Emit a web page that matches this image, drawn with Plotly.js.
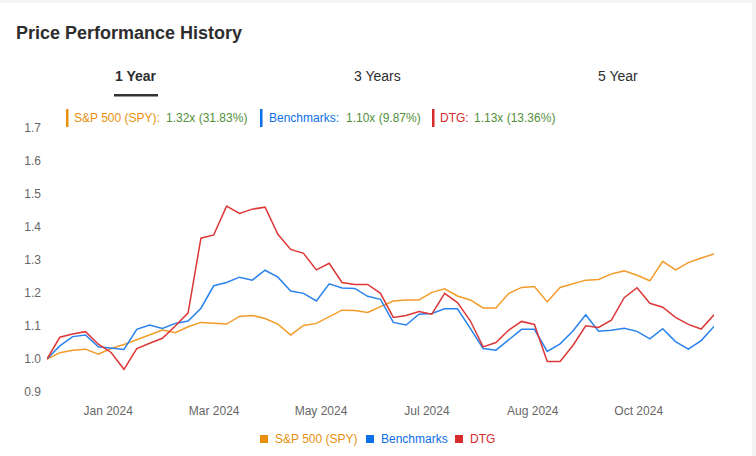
<!DOCTYPE html>
<html>
<head>
<meta charset="utf-8">
<script src="https://cdn.plot.ly/plotly-3.0.1.min.js"></script>
<style>
  html, body { margin: 0; padding: 0; background: #ffffff; }
  #wrap { position: relative; width: 756px; height: 456px; overflow: hidden; }
  #topstrip { position: absolute; left: 0; top: 0; width: 756px; height: 3px; background: #f4f4f4; }
  #rightstrip { position: absolute; right: 0; top: 0; width: 4px; height: 456px; background: #f4f4f4; }
  #chart { position: absolute; left: 0; top: 0; width: 756px; height: 456px; }
</style>
</head>
<body>
<div id="wrap">
  <div id="topstrip"></div>
  <div id="rightstrip"></div>
  <div id="chart"></div>
</div>
<script>
// ---- Data (weekly points, normalised to 1.0 at start) ----
const spyValues = [1.000, 1.019, 1.027, 1.030, 1.015, 1.032, 1.044, 1.058, 1.073, 1.088,
  1.080, 1.098, 1.111, 1.109, 1.106, 1.129, 1.132, 1.123, 1.106, 1.073,
  1.102, 1.108, 1.128, 1.148, 1.147, 1.141, 1.159, 1.176, 1.179, 1.179,
  1.202, 1.213, 1.191, 1.179, 1.155, 1.155, 1.199, 1.217, 1.220, 1.173,
  1.217, 1.229, 1.239, 1.241, 1.258, 1.267, 1.254, 1.237, 1.296, 1.270,
  1.292, 1.306, 1.318];
const benchValues = [1.000, 1.040, 1.068, 1.073, 1.037, 1.034, 1.029, 1.090, 1.103, 1.093,
  1.108, 1.115, 1.154, 1.222, 1.232, 1.248, 1.239, 1.269, 1.248, 1.206,
  1.199, 1.176, 1.228, 1.215, 1.214, 1.190, 1.181, 1.111, 1.103, 1.136,
  1.138, 1.152, 1.152, 1.093, 1.032, 1.027, 1.059, 1.090, 1.090, 1.023,
  1.046, 1.085, 1.134, 1.084, 1.087, 1.093, 1.084, 1.061, 1.092, 1.053,
  1.030, 1.056, 1.099];
const dtgValues = [1.000, 1.066, 1.076, 1.083, 1.045, 1.020, 0.969, 1.032, 1.048, 1.063,
  1.100, 1.140, 1.366, 1.376, 1.463, 1.441, 1.454, 1.460, 1.378, 1.332,
  1.320, 1.270, 1.290, 1.232, 1.226, 1.226, 1.199, 1.126, 1.132, 1.144,
  1.136, 1.199, 1.171, 1.116, 1.037, 1.050, 1.088, 1.114, 1.105, 0.993,
  0.993, 1.041, 1.101, 1.096, 1.118, 1.186, 1.216, 1.169, 1.157, 1.126,
  1.105, 1.091, 1.134];
const seriesNames = ["S&P 500 (SPY)", "Benchmarks", "DTG"];
const summaryValues = ["1.32x (31.83%)", "1.10x (9.87%)", "1.13x (13.36%)"];
const xTickLabels = ["Jan 2024", "Mar 2024", "May 2024", "Jul 2024", "Aug 2024", "Oct 2024"];
const tabLabels = ["1 Year", "3 Years", "5 Year"];
const chartTitle = "Price Performance History";

// ---- Styling / layout ----
const FONT = "Liberation Sans, Arial, Helvetica, sans-serif";
const lineColors = ["#f29b28", "#2a82ee", "#dd3737"];
const keyColors = ["#e8900c", "#0d6fe6", "#d62b2b"];
const valueColor = "#52903a";
const M = { l: 47, r: 42, t: 118, b: 54 };
const W = 756, H = 456;
const PW = W - M.l - M.r, PH = H - M.t - M.b;
const fx = px => (px - M.l) / PW;
const fy = py => (H - M.b - py) / PH;

const idx = spyValues.map((_, i) => i);
const allSeries = [spyValues, benchValues, dtgValues];
const traces = allSeries.map((vals, k) => ({
  x: idx, y: vals, type: "scatter", mode: "lines", name: seriesNames[k],
  line: { color: lineColors[k], width: 1.5 }, hoverinfo: "skip"
}));

const tickPos = [4.77, 13.03, 21.36, 29.62, 37.87, 46.13];

const annotations = [];
const shapes = [];
function txt(text, x, y, opts) {
  annotations.push(Object.assign({
    text: text, xref: "paper", yref: "paper", x: fx(x), y: fy(y),
    xanchor: "left", yanchor: "middle", showarrow: false,
    font: { family: FONT, size: 12, color: "#333" }
  }, opts || {}));
}
function rect(x0, y0, x1, y1, color) {
  shapes.push({ type: "rect", xref: "paper", yref: "paper",
    x0: fx(x0), x1: fx(x1), y0: fy(y1), y1: fy(y0),
    fillcolor: color, line: { width: 0 }, layer: "above" });
}

// Title
txt("<b>" + chartTitle + "</b>", 14, 33, { font: { family: FONT, size: 18, color: "#2d2d2d" } });
// Tabs
txt("<b>" + tabLabels[0] + "</b>", 135.5, 76, { xanchor: "center", font: { family: FONT, size: 14, color: "#2d2d2d" } });
txt(tabLabels[1], 377, 76, { xanchor: "center", font: { family: FONT, size: 14, color: "#2d2d2d" } });
txt(tabLabels[2], 618, 76, { xanchor: "center", font: { family: FONT, size: 14, color: "#2d2d2d" } });
rect(114, 94, 158, 96.5, "#333333");

// Header summary row
const hdrBarX = [66, 260, 432];
const hdrLabelX = [72, 267, 438];
const hdrValueX = [163.5, 343.5, 472];
const hdrLabels = [seriesNames[0] + ":", seriesNames[1] + ":", seriesNames[2] + ":"];
for (let k = 0; k < 3; k++) {
  rect(hdrBarX[k], 109, hdrBarX[k] + 2.5, 127, keyColors[k]);
  txt(hdrLabels[k], hdrLabelX[k], 118, { font: { family: FONT, size: 12, color: keyColors[k] } });
  txt(summaryValues[k], hdrValueX[k], 118, { font: { family: FONT, size: 12, color: valueColor } });
}

// Bottom legend
const legSqX = [260, 366, 455];
for (let k = 0; k < 3; k++) {
  rect(legSqX[k], 435, legSqX[k] + 8, 443, keyColors[k]);
  txt(seriesNames[k], legSqX[k] + 12.5, 439, { font: { family: FONT, size: 12, color: keyColors[k] } });
}

const layout = {
  width: W, height: H,
  margin: M,
  paper_bgcolor: "rgba(0,0,0,0)",
  plot_bgcolor: "rgba(0,0,0,0)",
  showlegend: false,
  font: { family: FONT, size: 12, color: "#666" },
  xaxis: {
    range: [0, spyValues.length - 1],
    tickmode: "array", tickvals: tickPos, ticktext: xTickLabels,
    showgrid: false, zeroline: false, showline: false, ticks: "",
    tickfont: { family: FONT, size: 12, color: "#666" }
  },
  yaxis: {
    range: [0.87, 1.73],
    tickmode: "linear", tick0: 0.9, dtick: 0.1, tickformat: ".1f",
    showgrid: false, zeroline: false, showline: false, ticks: "",
    ticklabelstandoff: 5,
    tickfont: { family: FONT, size: 12, color: "#666" }
  },
  annotations: annotations,
  shapes: shapes
};

Plotly.newPlot("chart", traces, layout, { staticPlot: true, displayModeBar: false });
</script>
</body>
</html>
